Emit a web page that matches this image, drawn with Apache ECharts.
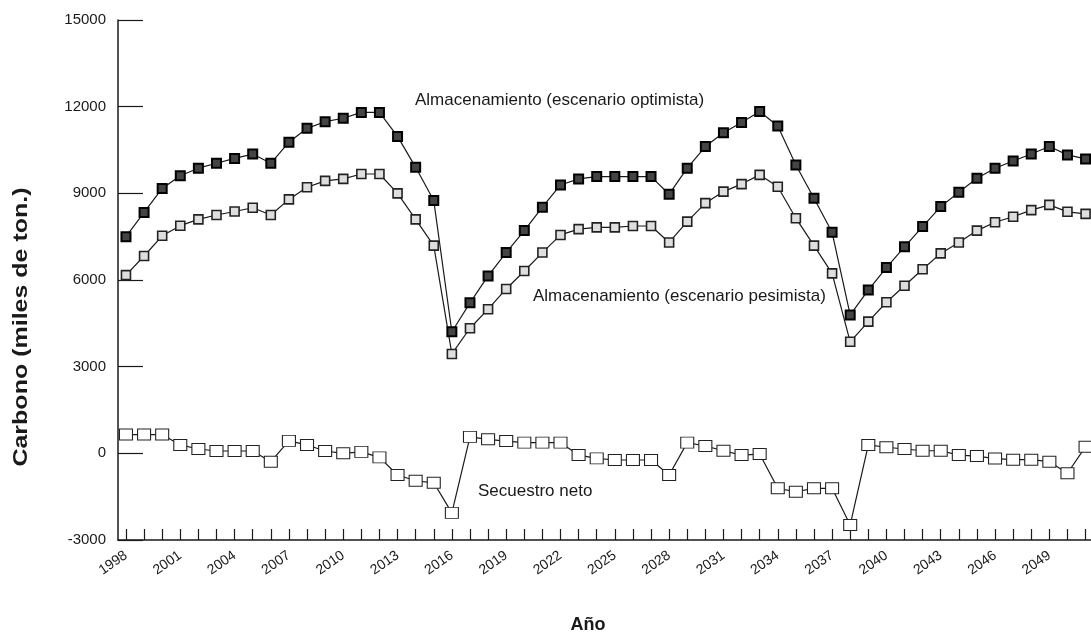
<!DOCTYPE html>
<html><head><meta charset="utf-8">
<script src="https://cdn.jsdelivr.net/npm/echarts@6/dist/echarts.min.js"></script>
<style>html,body{margin:0;padding:0;background:#fff}#c{width:1091px;height:638px}</style>
</head><body><div id="c"></div>
<script>
const years = [1998,1999,2000,2001,2002,2003,2004,2005,2006,2007,2008,2009,2010,2011,2012,2013,2014,2015,2016,2017,2018,2019,2020,2021,2022,2023,2024,2025,2026,2027,2028,2029,2030,2031,2032,2033,2034,2035,2036,2037,2038,2039,2040,2041,2042,2043,2044,2045,2046,2047,2048,2049,2050,2051];
const optimista = [7500,8340,9170,9610,9870,10040,10210,10360,10040,10770,11250,11480,11600,11800,11800,10970,9900,8750,4210,5210,6140,6950,7710,8520,9290,9500,9580,9580,9580,9580,8970,9870,10620,11100,11450,11830,11330,9980,8830,7650,4790,5650,6430,7150,7850,8540,9040,9520,9870,10120,10360,10620,10330,10190];
const pesimista = [6170,6830,7530,7880,8100,8250,8370,8500,8250,8790,9210,9430,9500,9670,9670,9000,8100,7190,3440,4330,4990,5690,6310,6950,7560,7760,7820,7820,7870,7870,7300,8020,8660,9060,9320,9640,9230,8140,7190,6230,3860,4560,5230,5800,6370,6920,7300,7710,8000,8190,8420,8600,8360,8290];
const secuestro = [650,650,650,290,150,80,80,80,-290,430,290,80,0,50,-140,-750,-950,-1020,-2060,570,485,425,370,370,370,-60,-175,-230,-230,-230,-750,370,255,90,-60,-25,-1210,-1330,-1210,-1210,-2480,290,210,150,90,90,-60,-95,-180,-220,-220,-290,-690,230];
const xTickLabels = [1998,2001,2004,2007,2010,2013,2016,2019,2022,2025,2028,2031,2034,2037,2040,2043,2046,2049];

const ink = '#1a1a1a';
const font = 'Liberation Sans, Arial, sans-serif';
const pairs = arr => years.map((y, i) => [y, arr[i]]);

const chart = echarts.init(document.getElementById('c'), null, {renderer: 'canvas'});
chart.setOption({
  animation: false,
  backgroundColor: '#fff',
  grid: {left: 118, right: 0, top: 20, bottom: 98, containLabel: false},
  xAxis: {
    type: 'value', min: 1997.56, max: 2051.3,
    axisLine: {onZero: false, lineStyle: {color: ink, width: 1.5}},
    axisTick: {inside: true, length: 11, customValues: years, lineStyle: {color: ink, width: 1.2}},
    axisLabel: {customValues: xTickLabels, rotate: 35, fontSize: 14, color: ink, margin: 14, fontFamily: font,
      formatter: v => String(v)},
    splitLine: {show: false}
  },
  yAxis: {
    type: 'value', min: -3000, max: 15000, interval: 3000,
    axisLine: {show: true, onZero: false, lineStyle: {color: ink, width: 1.5}},
    axisTick: {show: true, inside: true, length: 25, lineStyle: {color: ink, width: 1.2}},
    axisLabel: {fontSize: 15, color: ink, margin: 12, fontFamily: font, formatter: v => String(v)},
    splitLine: {show: false}
  },
  series: [
    {name: 'Almacenamiento (escenario optimista)', type: 'line', data: pairs(optimista),
      symbol: 'rect', symbolSize: 9, showAllSymbol: true,
      lineStyle: {color: ink, width: 1.2},
      itemStyle: {color: '#444', borderColor: '#000', borderWidth: 2}},
    {name: 'Almacenamiento (escenario pesimista)', type: 'line', data: pairs(pesimista),
      symbol: 'rect', symbolSize: 9, showAllSymbol: true,
      lineStyle: {color: ink, width: 1.2},
      itemStyle: {color: '#dedede', borderColor: '#222', borderWidth: 1.6}},
    {name: 'Secuestro neto', type: 'line', data: pairs(secuestro),
      symbol: 'rect', symbolSize: [13, 11], showAllSymbol: true,
      lineStyle: {color: ink, width: 1.2},
      itemStyle: {color: '#fff', borderColor: '#222', borderWidth: 1}}
  ],
  graphic: [
    {type: 'text', x: 21, y: 327, rotation: Math.PI / 2, scaleX: 1.25,
      style: {text: 'Carbono (miles de ton.)', font: 'bold 20px ' + font, fill: ink, textAlign: 'center', textVerticalAlign: 'middle'}},
    {type: 'text', x: 588, y: 625,
      style: {text: 'Año', font: 'bold 18px ' + font, fill: ink, textAlign: 'center', textVerticalAlign: 'middle'}},
    {type: 'text', x: 415, y: 100,
      style: {text: 'Almacenamiento (escenario optimista)', font: '17px ' + font, fill: ink, textAlign: 'left', textVerticalAlign: 'middle'}},
    {type: 'text', x: 533, y: 296,
      style: {text: 'Almacenamiento (escenario pesimista)', font: '17px ' + font, fill: ink, textAlign: 'left', textVerticalAlign: 'middle'}},
    {type: 'text', x: 478, y: 491,
      style: {text: 'Secuestro neto', font: '17px ' + font, fill: ink, textAlign: 'left', textVerticalAlign: 'middle'}}
  ]
});
</script></body></html>
